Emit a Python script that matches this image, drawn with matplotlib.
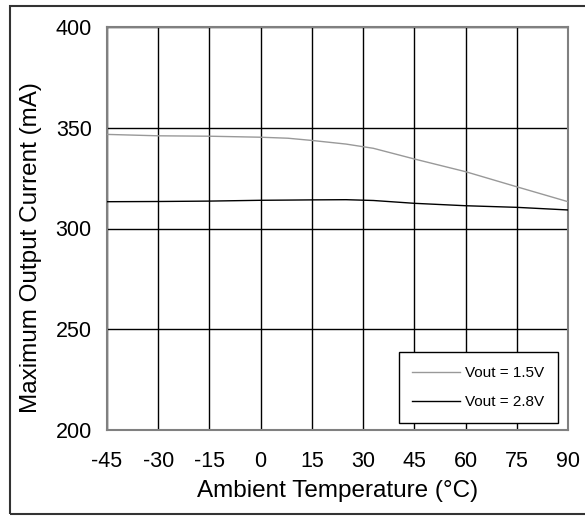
import matplotlib
matplotlib.use('Agg')
import matplotlib.pyplot as plt
from matplotlib.patches import Rectangle

# data
temps = [-45, -30, -15, 0, 8, 15, 25, 33, 45, 60, 75, 90]
cur_15v = [346.7, 346.0, 345.8, 345.3, 344.8, 343.7, 341.9, 339.8, 334.5, 328.2, 320.7, 313.3]
cur_28v = [313.3, 313.4, 313.6, 314.0, 314.1, 314.2, 314.3, 313.9, 312.5, 311.3, 310.5, 309.2]
x_ticks = [-45, -30, -15, 0, 15, 30, 45, 60, 75, 90]
y_ticks = [200, 250, 300, 350, 400]

plt.rcParams['font.family'] = ['Liberation Sans', 'DejaVu Sans']
plt.rcParams['axes.unicode_minus'] = False

fig = plt.figure(figsize=(5.85, 5.16), dpi=100)
ax = fig.add_axes([107 / 585, 1 - 430 / 516, (568 - 107) / 585, (430 - 27) / 516])

# outer frame of the figure
fig.patches.append(Rectangle((10 / 585, 1 - 514 / 516), 1.0, (514 - 6) / 516,
                             transform=fig.transFigure, fill=False,
                             edgecolor='#333333', linewidth=1.5))

ax.plot(temps, cur_15v, color='#999999', linewidth=1.0, label='Vout = 1.5V', zorder=3)
ax.plot(temps, cur_28v, color='black', linewidth=1.0, label='Vout = 2.8V', zorder=3)

ax.set_xlim(-45, 90)
ax.set_ylim(200, 400)
ax.set_xticks(x_ticks)
ax.set_yticks(y_ticks)
ax.grid(True, color='black', linewidth=1.0)
ax.set_axisbelow(True)
ax.tick_params(length=0, labelsize=15.5)
ax.tick_params(axis='x', pad=15)
ax.tick_params(axis='y', pad=11)
for s in ax.spines.values():
    s.set_color('#808080')
    s.set_linewidth(1.5)

ax.set_xlabel('Ambient Temperature (°C)', fontsize=17.5, labelpad=6)
ax.set_ylabel('Maximum Output Current (mA)', fontsize=17.5)
ax.yaxis.set_label_coords(-0.141, 0.452)

leg = ax.legend(loc='lower right', bbox_to_anchor=(0.978, 0.017), fontsize=11,
                fancybox=False, framealpha=1, edgecolor='black',
                handlelength=3.1, handletextpad=0.35, labelspacing=1.0,
                borderpad=0.9, borderaxespad=0)
leg.get_frame().set_linewidth(1.0)

fig.savefig('out.png', dpi=100)
